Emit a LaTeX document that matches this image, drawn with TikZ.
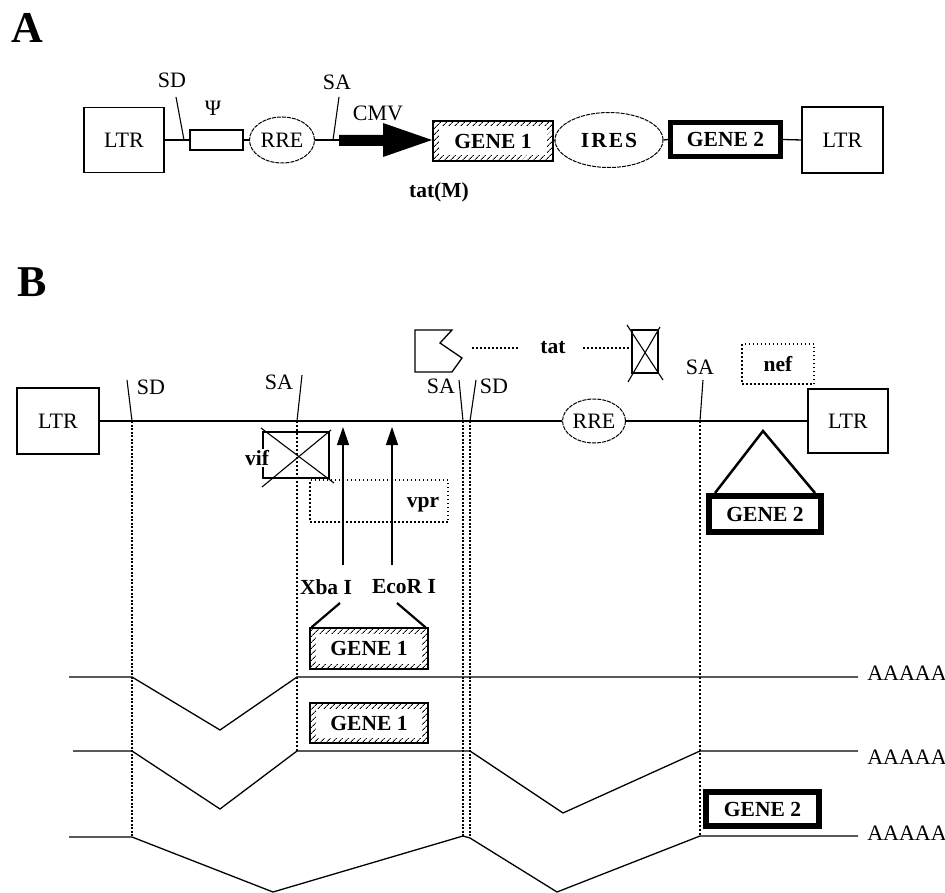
\documentclass[tikz,border=0pt]{standalone}
\usepackage{fontspec}
\setmainfont{Liberation Serif}
\usetikzlibrary{patterns.meta,arrows.meta,shapes.geometric}
\begin{document}
\begin{tikzpicture}[x=1pt,y=-1pt,
 lbl/.style={font=\fontsize{22}{24}\selectfont, inner sep=0pt},
 blbl/.style={font=\bfseries\fontsize{21.5}{24}\selectfont, inner sep=0pt},
 biglbl/.style={font=\bfseries\fontsize{44}{44}\selectfont, inner sep=0pt},
 ltrbox/.style={draw, line width=1.3pt, inner sep=0pt, font=\fontsize{22}{24}\selectfont},
 ln/.style={line width=1.3pt},
 splice/.style={line width=1.1pt},
 oval/.style={ellipse, draw, line width=1pt, dash pattern=on 4pt off 1pt, inner sep=0pt, font=\fontsize{22}{24}\selectfont},
 hatchbox/.style={draw, line width=1.2pt, inner sep=0pt, pattern={Lines[angle=45,distance=4pt,line width=1pt]}},
 genetxt/.style={fill=white, inner sep=0pt, font=\bfseries\fontsize{21.5}{24}\selectfont},
 thickbox/.style={draw, line width=5pt, inner sep=0pt, font=\bfseries\fontsize{21.5}{24}\selectfont},
 thickdot/.style={line width=2.6pt, dash pattern=on 2pt off 1.5pt},
 thindot/.style={line width=1.3pt, dash pattern=on 1.5pt off 2.5pt},
 dotbox/.style={draw, line width=1.1pt, dash pattern=on 1.5pt off 2.5pt, inner sep=0pt},
 mrna/.style={line width=1.3pt, line join=miter},
 xbox/.style={draw, line width=1.3pt, inner sep=0pt},
 cut/.style={-{Triangle[length=18pt,width=12pt]}, line width=1.3pt},
]
\fill[white] (0,0) rectangle (945,893);
\useasboundingbox (0,0) rectangle (945,893);

% ---------------- Part A ----------------
\node[biglbl] (labA) at (27,28) {A};
\node[ltrbox, minimum width=80, minimum height=65] (ltrA1) at (124,140) {LTR};
\node[draw, line width=1.3pt, minimum width=53, minimum height=20, inner sep=0pt] (psi) at (216.5,140) {};
\node[lbl] (psilbl) at (213,108) {Ψ};
\coordinate (sdA) at (184,140);
\coordinate (sdAtop) at (176,97);
\draw[ln] (ltrA1.east) -- (sdA) -- (psi.west);
\draw[splice] (sdA) -- (sdAtop);
\node[lbl] (sdAl) at (172,80) {SD};
\node[oval, minimum width=65, minimum height=46] (rreA) at (282,140) {RRE};
\draw[ln] (psi.east) -- (rreA.west);
\coordinate (saA) at (333,140);
\coordinate (saAtop) at (339,97);
\coordinate (cmvA) at (339,140);
\draw[ln] (rreA.east) -- (cmvA);
\draw[splice] (saA) -- (saAtop);
\node[lbl] (saAl) at (337,82) {SA};
\fill (339,135) -- (383,135) -- (383,123) -- (432,140) -- (383,157) -- (383,146) -- (339,146) -- cycle;
\node[lbl] (cmvl) at (378,113) {CMV};
\node[hatchbox, minimum width=120, minimum height=40] (gene1A) at (493,141) {};
\node[genetxt, minimum width=108, minimum height=29] (gene1At) at (gene1A.center) {GENE 1};
\node[blbl] (tatM) at (439,192) {tat(M)};
\node[oval, minimum width=108, minimum height=55, font=\bfseries\fontsize{21.5}{24}\selectfont] (iresA) at (609,140) {I\kern2pt R\kern2pt E\kern2pt S};
\draw[ln] (gene1A.east) -- (iresA.west);
\node[thickbox, minimum width=110, minimum height=34] (gene2A) at (725.5,139.5) {GENE 2};
\draw[ln] (iresA.east) -- (gene2A.west);
\node[ltrbox, minimum width=81, minimum height=66] (ltrA2) at (842.5,140) {LTR};
\draw[ln] (gene2A.east) -- (ltrA2.west);

% ---------------- Part B ----------------
\node[biglbl] (labB) at (32,282) {B};
\node[ltrbox, minimum width=82, minimum height=66] (ltrB1) at (58,421) {LTR};
\node[ltrbox, minimum width=80, minimum height=64] (ltrB2) at (848,421) {LTR};
\node[oval, minimum width=63, minimum height=44] (rreB) at (594,421) {RRE};
\draw[ln] (ltrB1.east) -- (rreB.west);
\draw[ln] (rreB.east) -- (ltrB2.west);

% splice sites
\coordinate (sd1) at (132,421); \coordinate (sd1t) at (127,380);
\coordinate (sa1) at (297,421); \coordinate (sa1t) at (302,375);
\coordinate (sa2) at (463,421); \coordinate (sa2t) at (459,380);
\coordinate (sd2) at (470,421); \coordinate (sd2t) at (476,380);
\coordinate (sa3) at (700,421); \coordinate (sa3t) at (703,380);
\draw[splice] (sd1) -- (sd1t);
\draw[splice] (sa1) -- (sa1t);
\draw[splice] (sa2) -- (sa2t);
\draw[splice] (sd2) -- (sd2t);
\draw[splice] (sa3) -- (sa3t);
\node[lbl] (sd1l) at (151,387) {SD};
\node[lbl] (sa1l) at (279,382) {SA};
\node[lbl] (sa2l) at (441,386) {SA};
\node[lbl] (sd2l) at (494,386) {SD};
\node[lbl] (sa3l) at (700,367) {SA};

% dotted vertical guides
\coordinate (sd1b) at (132,837);
\coordinate (sa1b) at (297,751);
\coordinate (sa2b) at (463,836);
\coordinate (sd2b) at (470,837);
\coordinate (sa3b) at (700,836);
\draw[thickdot] (sd1) -- (sd1b);
\draw[thickdot] (sa2) -- (sa2b);
\draw[thickdot] (sd2) -- (sd2b);
\draw[thindot] (sa1) -- (sa1b);
\draw[thindot] (sa3) -- (sa3b);

% tat
\draw[line width=1.3pt] (415,330) -- (452,330) -- (440,343) -- (462,358) -- (452,372) -- (415,372) -- cycle;
\node[blbl] (tat) at (553,348) {tat};
\node[xbox, minimum width=26, minimum height=43] (tatX) at (645,351.5) {};
\draw[line width=1.1pt] (627,325) -- (663,380);
\draw[line width=1.1pt] (660,327) -- (628,382);
\coordinate (td1) at (472,348); \coordinate (td2) at (520,348);
\coordinate (td3) at (583,348);
\draw[thindot, line width=1.1pt] (td1) -- (td2);
\draw[thindot, line width=1.1pt] (td3) -- (tatX.west |- td3);

% nef
\node[dotbox, minimum width=72, minimum height=40, font=\bfseries\fontsize{21.5}{24}\selectfont] (nefbox) at (778,364) {nef};

% vif
\node[xbox, minimum width=66, minimum height=46] (vifbox) at (296,455) {};
\draw[line width=1.1pt] (261,428) -- (334,483);
\draw[line width=1.1pt] (331,430) -- (262,487);
\node[blbl, fill=white, inner sep=1pt] (vif) at (257,458) {vif};

% vpr
\node[dotbox, minimum width=138, minimum height=42] (vprbox) at (379,501) {};
\node[blbl] (vpr) at (423,505) {vpr};

% restriction sites
\coordinate (xbaT) at (343,565); \coordinate (xbaH) at (343,427);
\coordinate (ecoT) at (392,565); \coordinate (ecoH) at (392,427);
\draw[cut] (xbaT) -- (xbaH);
\draw[cut] (ecoT) -- (ecoH);
\node[blbl] (xba) at (326,587) {Xba I};
\node[blbl] (eco) at (404,587) {EcoR I};

% gene 1 insert
\node[hatchbox, minimum width=118, minimum height=41] (gene1B1) at (369,648.5) {};
\node[genetxt, minimum width=106, minimum height=30] (gene1B1t) at (gene1B1.center) {GENE 1};
\coordinate (xbaL) at (340,603);
\coordinate (ecoL) at (397,603);
\draw[line width=2.2pt] (xbaL) -- ([xshift=2pt]gene1B1.north west);
\draw[line width=2.2pt] (ecoL) -- ([xshift=-3pt]gene1B1.north east);

\node[hatchbox, minimum width=118, minimum height=40] (gene1B2) at (369,723) {};
\node[genetxt, minimum width=106, minimum height=29] (gene1B2t) at (gene1B2.center) {GENE 1};

% gene 2 insert
\coordinate (g2apex) at (763,431);
\node[thickbox, line width=6pt, minimum width=112, minimum height=36] (gene2B1) at (765,514) {GENE 2};
\draw[line width=2.5pt, line join=miter] ([xshift=9pt]gene2B1.north west) -- (g2apex) -- ([xshift=-9pt]gene2B1.north east);
\node[thickbox, line width=6pt, minimum width=113, minimum height=34] (gene2B2) at (762.5,809) {GENE 2};

% transcripts
\coordinate (r1s) at (69,677); \coordinate (r1e) at (858,677);
\coordinate (r2s) at (73,751); \coordinate (r2e) at (858,751);
\coordinate (r3s) at (69,837); \coordinate (r3e) at (858,836);
\draw[mrna] (r1s) -- (132,677) -- (220,730) -- (297,677) -- (r1e);
\draw[mrna] (r2s) -- (132,751) -- (220,809) -- (297,751) -- (470,751) -- (563,813) -- (700,751) -- (r2e);
\draw[mrna] (r3s) -- (132,837) -- (273,892) -- (463,836) -- (470,838) -- (557,892) -- (700,836) -- (r3e);
\node[lbl] (pa1) at (907,673) {AAAAA};
\node[lbl] (pa2) at (907,757) {AAAAA};
\node[lbl] (pa3) at (907,833) {AAAAA};
\end{tikzpicture}
\end{document}
